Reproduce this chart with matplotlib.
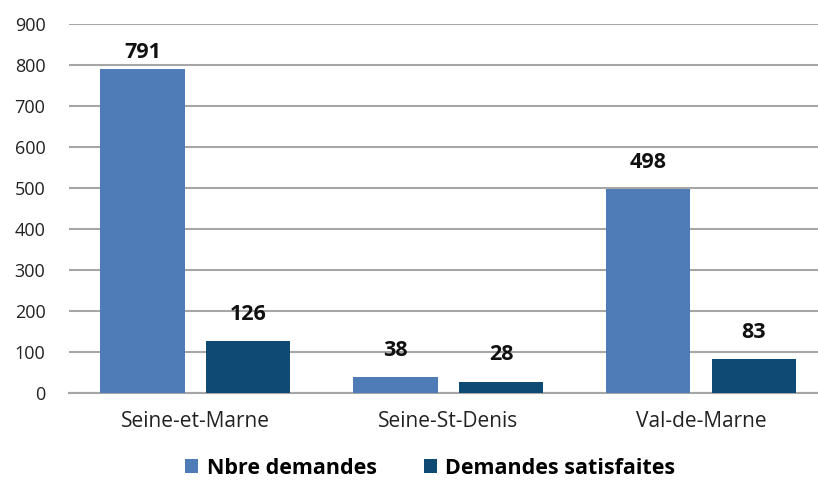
import numpy as np
import matplotlib
matplotlib.use("Agg")
import matplotlib.pyplot as plt

categories = ["Seine-et-Marne", "Seine-St-Denis", "Val-de-Marne"]
nbre_demandes = [791, 38, 498]
demandes_satisfaites = [126, 28, 83]
series_names = ["Nbre demandes", "Demandes satisfaites"]
yticks = [0, 100, 200, 300, 400, 500, 600, 700, 800, 900]

plt.rcParams['font.family'] = ['Open Sans', 'DejaVu Sans']

fig = plt.figure(figsize=(8.18, 4.84), dpi=100)
ax = fig.add_axes([0.0844, 0.188, 0.9156, 0.762])

x = np.arange(len(categories))
w = 0.334
off = 0.209
b1 = ax.bar(x - off, nbre_demandes, w, color='#4F7CB6', label=series_names[0], zorder=3)
b2 = ax.bar(x + off, demandes_satisfaites, w, color='#0E4A74', label=series_names[1], zorder=3)

# labels sit above the bars, but get squeezed down near the top of the plot
for bars in (b1, b2):
    for r in bars:
        v = r.get_height()
        ax.text(r.get_x() + r.get_width() / 2, min(v + 40, 806), str(int(v)),
                ha='center', va='bottom', fontsize=15.5, fontweight='bold', color='#111111')

ax.set_ylim(0, 900)
ax.set_xlim(-0.5, 2.463)
ax.set_yticks(yticks)
ax.set_xticks(x)
ax.set_xticklabels(categories, fontsize=15)
ax.yaxis.grid(True, color='#A6A6A6', linewidth=1.5, zorder=0)
ax.tick_params(axis='both', length=0, colors='#222222')
ax.tick_params(axis='y', labelsize=13, pad=17)
ax.tick_params(axis='x', pad=13)
for s in ['top', 'right', 'left']:
    ax.spines[s].set_visible(False)
ax.spines['bottom'].set_color('#A6A6A6')
ax.spines['bottom'].set_linewidth(1.5)

fig.legend(handles=[b1, b2], labels=series_names, loc='center', bbox_to_anchor=(0.526, 0.033),
           ncol=2, frameon=False, prop={'size': 15.5, 'weight': 'bold'},
           handlelength=0.6, handleheight=0.6, handletextpad=0.4, columnspacing=2.2)

fig.savefig("out.png", dpi=100)
